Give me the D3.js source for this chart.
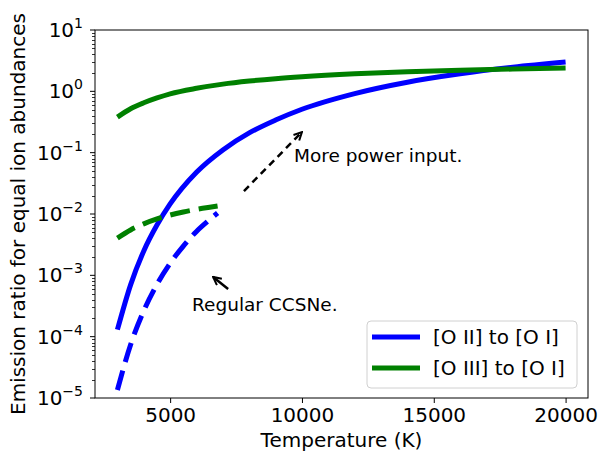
<!DOCTYPE html>
<html>
<head>
<meta charset="utf-8">
<script src="https://cdn.jsdelivr.net/npm/d3@7"></script>
<style>
  body { margin: 0; background: #fff; }
  text { font-family: "DejaVu Sans", sans-serif; fill: #000; }
</style>
</head>
<body>
<div id="chart"></div>
<script>
var w = 600, h = 453;
var margin = { top: 30, right: 12, bottom: 55, left: 95 };

// Temperatures (K) sampled along the curves
var tempFull = [3000, 3500, 4000, 4500, 5000, 6000, 7000, 8000, 9000, 10000, 12000, 14000, 16000, 18000, 20000];
var tempLow = [3000, 3500, 4000, 4500, 5000, 5500, 6000, 6500, 6800];

// [O II] to [O I], solid (power input) and dashed (regular CCSNe)
var o2Solid = [1.3e-4, 7.0e-4, 2.5e-3, 6.6e-3, 0.0146, 0.048, 0.111, 0.21, 0.34, 0.51, 0.92, 1.41, 1.93, 2.47, 3.0];
var o2Dashed = [1.35e-5, 7.4e-5, 2.64e-4, 7.1e-4, 1.57e-3, 3.0e-3, 5.2e-3, 8.1e-3, 0.0104];

// [O III] to [O I]
var o3Solid = [0.38, 0.52, 0.65, 0.78, 0.91, 1.12, 1.31, 1.47, 1.61, 1.73, 1.93, 2.09, 2.21, 2.31, 2.40];
var o3Dashed = [4.05e-3, 5.5e-3, 6.9e-3, 8.3e-3, 9.6e-3, 0.0108, 0.0119, 0.0129, 0.0135];

var xTicks = [5000, 10000, 15000, 20000];
var yExponents = [-5, -4, -3, -2, -1, 0, 1];
var legendLabels = ["[O II] to [O I]", "[O III] to [O I]"];
var colors = ["#0000ff", "#008000"];

var svg = d3.select("#chart")
  .append("svg")
  .attr("width", w)
  .attr("height", h);

var x = d3.scaleLinear()
  .domain([2150, 20850])
  .range([margin.left, w - margin.right]);

var y = d3.scaleLog()
  .domain([1e-5, 10])
  .range([h - margin.bottom, margin.top]);

// line generator
var line = d3.line()
  .x(function(d) { return x(d[0]); })
  .y(function(d) { return y(d[1]); })
  .curve(d3.curveMonotoneX);

function pairs(ts, vs) {
  return ts.map(function(t, i) { return [t, vs[i]]; });
}

var curves = [
  { data: pairs(tempFull, o2Solid), color: colors[0], dash: null },
  { data: pairs(tempFull, o3Solid), color: colors[1], dash: null },
  { data: pairs(tempLow, o2Dashed), color: colors[0], dash: "20,9" },
  { data: pairs(tempLow, o3Dashed), color: colors[1], dash: "20,9" }
];

svg.selectAll("path.curve")
  .data(curves)
  .enter()
  .append("path")
  .attr("class", "curve")
  .attr("d", function(d) { return line(d.data); })
  .attr("fill", "none")
  .attr("stroke", function(d) { return d.color; })
  .attr("stroke-width", 5)
  .attr("stroke-dasharray", function(d) { return d.dash; });

// x axis
var xAxis = svg.append("g")
  .attr("transform", "translate(0," + (h - margin.bottom) + ")")
  .call(d3.axisBottom(x).tickValues(xTicks).tickSize(5).tickSizeOuter(0).tickFormat(d3.format("d")));
xAxis.select(".domain").remove();
xAxis.selectAll("text").attr("font-size", 20).attr("dy", "0.8em").attr("font-family", "DejaVu Sans");

// y axis, minor ticks
var minor = [];
for (var e = -5; e < 1; e++) {
  for (var k = 2; k <= 9; k++) minor.push(k * Math.pow(10, e));
}
svg.selectAll("line.minor")
  .data(minor)
  .enter()
  .append("line")
  .attr("x1", margin.left - 3)
  .attr("x2", margin.left)
  .attr("y1", function(d) { return Math.round(y(d)) + 0.5; })
  .attr("y2", function(d) { return Math.round(y(d)) + 0.5; })
  .attr("stroke", "#000")
  .attr("stroke-width", 0.8);

var yTick = svg.selectAll("g.ytick")
  .data(yExponents)
  .enter()
  .append("g")
  .attr("class", "ytick")
  .attr("transform", function(d) { return "translate(0," + y(Math.pow(10, d)) + ")"; });

yTick.append("line")
  .attr("x1", margin.left - 5)
  .attr("x2", margin.left)
  .attr("stroke", "#000")
  .attr("stroke-width", 1);

var yLab = yTick.append("text")
  .attr("x", margin.left - 12)
  .attr("y", 7)
  .attr("text-anchor", "end")
  .attr("font-size", 20);
yLab.append("tspan").text("10");
yLab.append("tspan")
  .attr("dy", -9)
  .attr("font-size", 14)
  .text(function(d) { return d < 0 ? "\u2212" + (-d) : d; });

// frame
svg.append("rect")
  .attr("x", margin.left)
  .attr("y", margin.top)
  .attr("width", w - margin.left - margin.right)
  .attr("height", h - margin.top - margin.bottom)
  .attr("fill", "none")
  .attr("stroke", "#000")
  .attr("stroke-width", 1);

// axis titles
svg.append("text")
  .attr("x", (margin.left + w - margin.right) / 2)
  .attr("y", h - 6)
  .attr("text-anchor", "middle")
  .attr("font-size", 20)
  .text("Temperature (K)");

svg.append("text")
  .attr("transform", "translate(25," + ((margin.top + h - margin.bottom) / 2) + ") rotate(-90)")
  .attr("text-anchor", "middle")
  .attr("font-size", 20)
  .text("Emission ratio for equal ion abundances");

// annotations
svg.append("defs").append("marker")
  .attr("id", "head")
  .attr("viewBox", "0 0 10 10")
  .attr("refX", 9).attr("refY", 5)
  .attr("markerWidth", 4).attr("markerHeight", 4)
  .attr("markerUnits", "strokeWidth")
  .attr("orient", "auto")
  .append("path")
  .attr("d", "M1,1 L9,5 L1,9")
  .attr("fill", "none")
  .attr("stroke", "#000")
  .attr("stroke-width", 2);

svg.append("line")
  .attr("x1", x(7800)).attr("y1", y(0.0237))
  .attr("x2", x(10000)).attr("y2", y(0.217))
  .attr("stroke", "#000").attr("stroke-width", 2.5)
  .attr("stroke-dasharray", "7,5")
  .attr("marker-end", "url(#head)");

svg.append("text")
  .attr("x", x(9700))
  .attr("y", y(0.07))
  .attr("font-size", 18.5)
  .text("More power input.");

svg.append("line")
  .attr("x1", x(7200)).attr("y1", y(6.0e-4))
  .attr("x2", x(6630)).attr("y2", y(9.4e-4))
  .attr("stroke", "#000").attr("stroke-width", 2.5)
  .attr("marker-end", "url(#head)");

svg.append("text")
  .attr("x", x(5830))
  .attr("y", y(2.6e-4))
  .attr("font-size", 18.5)
  .text("Regular CCSNe.");

// legend
var lg = svg.append("g").attr("transform", "translate(367,321)");
lg.append("rect")
  .attr("width", 210).attr("height", 67)
  .attr("rx", 4)
  .attr("fill", "#fff").attr("fill-opacity", 0.8)
  .attr("stroke", "#d0d0d0");

var item = lg.selectAll("g.item")
  .data(legendLabels)
  .enter()
  .append("g")
  .attr("transform", function(d, i) { return "translate(0," + (16 + i * 31) + ")"; });
item.append("line")
  .attr("x1", 5).attr("x2", 53)
  .attr("stroke", function(d, i) { return colors[i]; })
  .attr("stroke-width", 5);
item.append("text")
  .attr("x", 66).attr("y", 7)
  .attr("font-size", 20)
  .text(function(d) { return d; });
</script>
</body>
</html>
